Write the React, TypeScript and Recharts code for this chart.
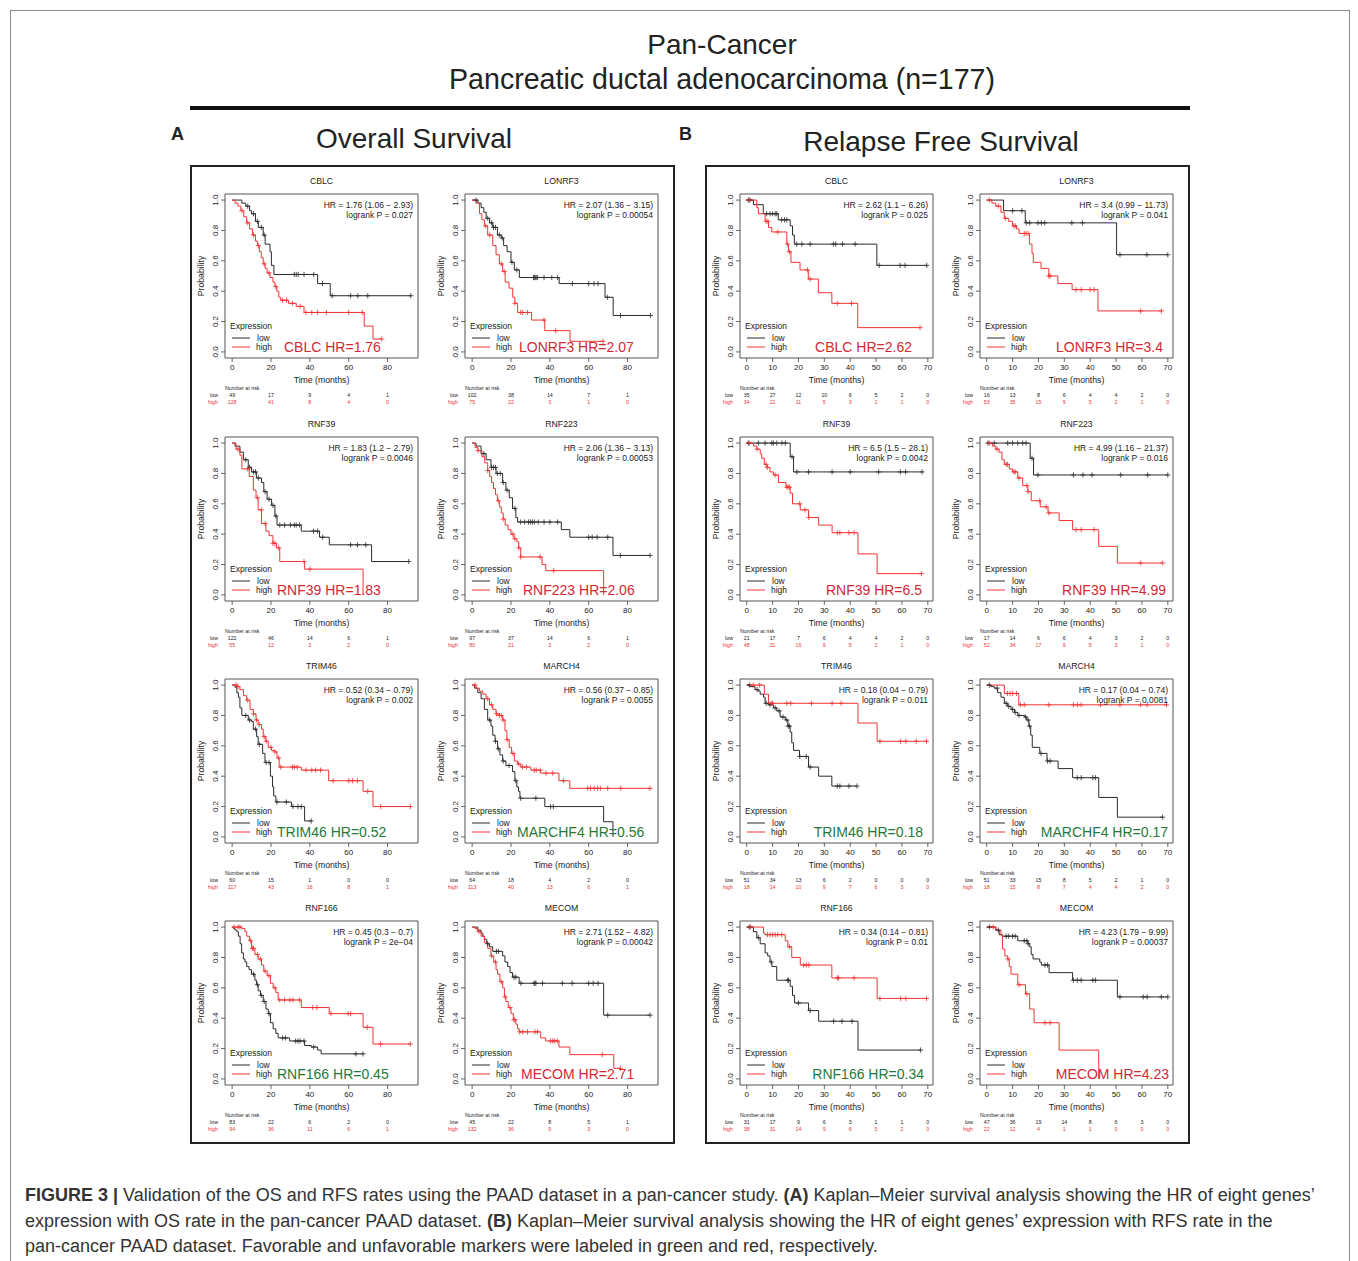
import { LineChart, Line, XAxis, YAxis, ReferenceArea } from 'recharts';

type Step = [number, number];

// ---- Overall survival curves (time in months, survival probability) ----
const osCblcLow: Step[] = [[0, 1], [5, 0.98], [7, 0.96], [9, 0.93], [10, 0.91], [12, 0.86], [13.5, 0.82], [16, 0.77], [17, 0.71], [19.5, 0.66], [20.2, 0.57], [21.5, 0.51], [44, 0.45], [50.5, 0.37]];
const osCblcLowCens = [8, 11, 13, 15, 16.5, 32, 33, 34, 37, 42, 46.5, 51.5, 61, 64.7, 69.8, 92];
const osCblcHigh: Step[] = [[0, 1], [1.5, 0.98], [3, 0.96], [4.5, 0.93], [6, 0.89], [7.5, 0.85], [9, 0.81], [10.5, 0.77], [12, 0.73], [13, 0.7], [14, 0.66], [15, 0.62], [16, 0.58], [17, 0.55], [18, 0.52], [19.5, 0.49], [21, 0.46], [22, 0.43], [23, 0.4], [24, 0.36], [25, 0.34], [29, 0.32], [33, 0.3], [37, 0.26], [68, 0.17], [72.5, 0.085]];
const osCblcHighCens = [5, 8, 11, 13.5, 16.5, 19, 22.5, 26, 28, 31, 35, 38, 41, 44, 48.5, 60, 67, 77];

const osLonrf3Low: Step[] = [[0, 1], [3, 0.98], [4.6, 0.95], [6, 0.92], [7.2, 0.88], [9, 0.85], [10.6, 0.82], [13, 0.77], [15, 0.75], [16.2, 0.7], [18, 0.66], [20, 0.59], [21.7, 0.54], [24.3, 0.49], [44.8, 0.45], [68.4, 0.36], [72.6, 0.24]];
const osLonrf3LowCens = [2, 8, 10, 11, 12, 14, 15.5, 20.5, 23, 31.6, 32, 32.5, 33, 33.7, 37, 41, 44, 51.6, 60, 62.7, 64.8, 69.6, 76.4, 91.8];
const osLonrf3High: Step[] = [[0, 1], [2, 0.98], [3.8, 0.91], [5, 0.87], [6.3, 0.83], [8, 0.77], [10.6, 0.7], [12.3, 0.64], [14, 0.58], [15.7, 0.53], [17, 0.46], [19, 0.42], [20.9, 0.36], [22, 0.32], [23.4, 0.26], [30.6, 0.21], [37.4, 0.14], [50.4, 0.07]];
const osLonrf3HighCens = [7, 9, 15, 16.5, 22, 25, 26, 28.5, 37, 43, 67.4];

const osRnf39Low: Step[] = [[0, 1], [1.5, 0.98], [4, 0.94], [5.8, 0.89], [8.3, 0.84], [10, 0.81], [12.6, 0.77], [15.1, 0.74], [16.3, 0.68], [18, 0.63], [20.3, 0.59], [22, 0.52], [23.1, 0.46], [35.6, 0.42], [45, 0.38], [50, 0.33], [71.8, 0.22]];
const osRnf39LowCens = [7, 9, 11, 12, 13.5, 17, 19, 21, 22.5, 24.5, 27, 30, 32, 33, 34.7, 41.9, 44, 46.6, 61, 64.5, 68.8, 90.9];
const osRnf39High: Step[] = [[0, 1], [2, 0.96], [4, 0.92], [5, 0.83], [8.8, 0.78], [10.9, 0.69], [12.3, 0.64], [13.4, 0.56], [15.1, 0.47], [17.4, 0.42], [19, 0.39], [21, 0.34], [22.8, 0.31], [24.5, 0.22], [37.3, 0.17], [67.4, 0]];
const osRnf39HighCens = [3, 8, 13, 15, 17, 21, 22, 24, 37, 40];

const osRnf223Low: Step[] = [[0, 1], [2, 0.98], [4.6, 0.93], [7.2, 0.89], [9.7, 0.84], [12.3, 0.8], [15.7, 0.74], [17.4, 0.69], [19.1, 0.64], [20.8, 0.57], [22.5, 0.51], [23.4, 0.48], [45.9, 0.43], [50.3, 0.38], [72.5, 0.26]];
const osRnf223LowCens = [6, 10, 11, 12, 13, 14.5, 16, 18, 22, 25, 27, 29, 30, 31, 32, 34, 37, 40, 44, 60, 61.8, 64.3, 69.8, 76.3, 91.6];
const osRnf223High: Step[] = [[0, 1], [1.5, 0.97], [3, 0.95], [5, 0.91], [6.5, 0.87], [8, 0.82], [9, 0.78], [10, 0.74], [11, 0.7], [12, 0.66], [13, 0.62], [14, 0.58], [15, 0.54], [16, 0.5], [17, 0.46], [18.5, 0.43], [20, 0.4], [21.5, 0.37], [23, 0.35], [24, 0.31], [25, 0.25], [36, 0.2], [37.9, 0.16], [67.7, 0]];
const osRnf223HighCens = [3, 8, 13.5, 16, 21, 22, 24, 25, 35, 42];

const osTrim46Low: Step[] = [[0, 1], [1.5, 0.985], [2.4, 0.95], [3.2, 0.92], [4, 0.85], [5, 0.8], [8.3, 0.77], [10, 0.76], [10.9, 0.71], [12.6, 0.66], [13.4, 0.61], [15.7, 0.55], [16.9, 0.49], [19.7, 0.4], [20.8, 0.33], [21.4, 0.27], [22.5, 0.23], [30.5, 0.2], [37.3, 0.105]];
const osTrim46LowCens = [7, 9, 12, 14, 17.5, 19, 23.1, 27.9, 31.3, 33.9, 35.6, 40.7];
const osTrim46High: Step[] = [[0, 1], [2.4, 0.99], [4, 0.97], [5.8, 0.93], [7.5, 0.9], [9.2, 0.84], [10.9, 0.81], [12.3, 0.77], [13.4, 0.74], [15.1, 0.71], [16, 0.66], [17.4, 0.63], [18.6, 0.59], [20.3, 0.57], [22, 0.56], [23.1, 0.52], [24.2, 0.46], [35.6, 0.44], [49.7, 0.37], [67.4, 0.3], [72.5, 0.2]];
const osTrim46HighCens = [2, 3, 8, 11, 12.5, 14, 16.5, 17.5, 20, 22, 24, 25, 31, 32, 33.5, 38, 41, 43, 45.5, 52, 60, 62, 64.5, 69.8, 76.5, 91.7];

const osMarch4Low: Step[] = [[0, 1], [1.2, 0.98], [2.9, 0.95], [4.6, 0.91], [6.3, 0.84], [8, 0.77], [9.7, 0.73], [10.6, 0.67], [11.8, 0.63], [13.1, 0.58], [14.3, 0.54], [15.7, 0.5], [17.4, 0.47], [20.8, 0.43], [22, 0.37], [23, 0.33], [23.9, 0.3], [24.6, 0.255], [37.4, 0.2], [67.7, 0.1], [72.5, 0]];
const osMarch4LowCens = [9, 12, 13.5, 16, 19, 22.5, 25, 32.8, 40.4, 41.8];
const osMarch4High: Step[] = [[0, 1], [2, 0.98], [3.8, 0.96], [5.5, 0.94], [7.2, 0.91], [8.9, 0.87], [10.6, 0.84], [12.3, 0.81], [14, 0.8], [15.7, 0.77], [16.9, 0.7], [17.9, 0.64], [19.1, 0.59], [20.3, 0.55], [21.7, 0.5], [23.4, 0.48], [25.1, 0.46], [30.2, 0.44], [35.3, 0.42], [44.7, 0.37], [50.3, 0.32]];
const osMarch4HighCens = [1.5, 8, 10, 12.5, 14, 15, 16, 18, 21, 24, 26, 28, 32, 33, 35, 38, 41.5, 47, 59.5, 61, 62.8, 64.5, 66, 69.8, 76.5, 91.6];

const osRnf166Low: Step[] = [[0, 1], [0.7, 0.99], [1.5, 0.98], [2.4, 0.97], [3.2, 0.94], [4.1, 0.89], [4.9, 0.83], [5.8, 0.79], [6.6, 0.77], [7.5, 0.74], [8.7, 0.72], [10, 0.69], [11.7, 0.65], [12.6, 0.62], [13.4, 0.58], [14.6, 0.55], [16, 0.51], [17.4, 0.46], [18.6, 0.43], [19.7, 0.37], [21.1, 0.33], [22.5, 0.3], [23.7, 0.27], [29.6, 0.25], [37.3, 0.22], [40.7, 0.21], [44, 0.19], [45.8, 0.165]];
const osRnf166LowCens = [11, 13, 15, 16.5, 19, 26, 27.5, 32.7, 33.9, 35, 37, 42, 63.7, 67.4];
const osRnf166High: Step[] = [[0, 1], [4.9, 0.99], [6.6, 0.97], [7.5, 0.94], [8.9, 0.91], [10, 0.86], [11.7, 0.82], [13.4, 0.79], [15.1, 0.75], [16.3, 0.71], [18, 0.68], [19.7, 0.63], [21.1, 0.6], [22.5, 0.57], [23.7, 0.52], [35.6, 0.47], [50, 0.43], [67.4, 0.34], [72.5, 0.23]];
const osRnf166HighCens = [1, 3, 4, 9.5, 10.5, 11, 13, 14.5, 17, 19, 22, 24.5, 27, 29.6, 31.3, 34.7, 41.5, 43.6, 50.9, 59.7, 61, 69.6, 76.4, 91.7];

const osMecomLow: Step[] = [[0, 1], [2.9, 0.98], [4.6, 0.96], [5.5, 0.94], [6.3, 0.92], [7.5, 0.89], [8.9, 0.87], [10.6, 0.84], [15.7, 0.81], [16.9, 0.77], [18.3, 0.74], [19.5, 0.7], [20.8, 0.67], [24.2, 0.63], [67.7, 0.42]];
const osMecomLowCens = [8, 12.5, 13.5, 21.5, 22.5, 25.1, 31.9, 32.3, 32.8, 36.2, 46.4, 51.5, 60, 62.3, 64.8, 69.8, 91.6];
const osMecomHigh: Step[] = [[0, 1], [1.5, 0.99], [2.9, 0.97], [4.6, 0.94], [6.3, 0.9], [8, 0.86], [9.7, 0.81], [11.1, 0.77], [12.3, 0.72], [13.1, 0.69], [14.3, 0.64], [15.7, 0.6], [16.6, 0.54], [17.4, 0.51], [18.6, 0.47], [20, 0.43], [21.2, 0.39], [22.5, 0.36], [23.4, 0.33], [24.2, 0.31], [35.3, 0.27], [37.9, 0.25], [44.7, 0.21], [50.3, 0.16], [72.9, 0.07]];
const osMecomHighCens = [3.5, 10, 12, 15, 17, 19.5, 21.5, 22, 24.5, 26, 28.5, 32.3, 33.6, 40.4, 41.5, 42.5, 43.9, 67, 76.3];

// ---- Relapse free survival curves ----
const rfsCblcLow: Step[] = [[0, 1], [2.6, 0.97], [6.4, 0.91], [12.2, 0.87], [16.8, 0.83], [17.7, 0.77], [18.4, 0.71], [50.3, 0.57]];
const rfsCblcLowCens = [0.6, 1.3, 7.7, 9, 10, 11, 11.6, 13.5, 14.6, 15.5, 19.3, 21.3, 24.5, 33.5, 34.4, 37, 41.9, 51.2, 59.3, 61.2, 69.6];
const rfsCblcHigh: Step[] = [[0, 1], [3.9, 0.95], [4.5, 0.91], [7.1, 0.86], [8.4, 0.82], [9.7, 0.79], [15.5, 0.71], [16.1, 0.66], [17.1, 0.59], [20.6, 0.54], [23.8, 0.48], [27.7, 0.39], [32.9, 0.32], [42.9, 0.16]];
const rfsCblcHighCens = [0.8, 7.5, 8.2, 12, 15.8, 16.5, 23.5, 24.5, 35, 40.5, 67];

const rfsLonrf3Low: Step[] = [[0, 1], [6.5, 0.93], [14.9, 0.85], [50.2, 0.64]];
const rfsLonrf3LowCens = [10, 13.6, 15.3, 16.6, 19.8, 21.1, 22.4, 32.9, 37, 51.5, 61.9, 70];
const rfsLonrf3High: Step[] = [[0, 1], [2, 0.98], [3.5, 0.96], [5.5, 0.92], [6.8, 0.88], [8.5, 0.86], [10, 0.83], [11.5, 0.81], [12.5, 0.78], [16.5, 0.71], [17.5, 0.65], [18, 0.59], [21, 0.55], [24, 0.5], [27.5, 0.45], [33, 0.41], [43, 0.27]];
const rfsLonrf3HighCens = [1, 4.5, 7.2, 10.5, 11, 14.5, 15.2, 16, 24, 24.5, 34.5, 36.5, 40, 41.5, 59.5, 67.5];

const rfsRnf39Low: Step[] = [[0, 1], [16.8, 0.91], [18.1, 0.81]];
const rfsRnf39LowCens = [0.6, 4.5, 7.1, 9.7, 10.3, 11.6, 13.6, 14.9, 17.5, 19.4, 23.9, 33, 40, 51, 59.4, 61.4, 67.8];
const rfsRnf39High: Step[] = [[0, 1], [2.6, 0.98], [3.9, 0.96], [5.2, 0.93], [5.8, 0.9], [6.8, 0.86], [7.8, 0.84], [9, 0.81], [10.3, 0.79], [12.3, 0.74], [15.2, 0.71], [16.8, 0.67], [17.7, 0.6], [20.7, 0.56], [23.9, 0.51], [27.8, 0.46], [33, 0.41], [43, 0.27], [50.4, 0.14]];
const rfsRnf39HighCens = [1, 4, 7.5, 8, 11, 15.5, 16, 16.5, 20.5, 22.5, 24, 35, 36, 39.5, 41.5, 67.6];

const rfsRnf223Low: Step[] = [[0, 1], [16.8, 0.9], [18.1, 0.79]];
const rfsRnf223LowCens = [0.5, 2.9, 8.1, 10, 12, 13.9, 15.2, 17.5, 19.8, 33.5, 37.2, 40.7, 51.8, 62.2, 70];
const rfsRnf223High: Step[] = [[0, 1], [2.2, 0.98], [3.5, 0.96], [4.8, 0.94], [5.9, 0.89], [6.8, 0.86], [8.7, 0.83], [10, 0.81], [12, 0.77], [13.9, 0.72], [15.9, 0.68], [17.2, 0.62], [20.7, 0.58], [23.7, 0.54], [28, 0.49], [33.2, 0.43], [43.3, 0.32], [50.5, 0.21]];
const rfsRnf223HighCens = [1, 4, 7.5, 8, 10.5, 11, 12.5, 15.5, 16, 20.5, 23, 24, 34.5, 36.5, 41.5, 59.5, 68];

const rfsTrim46Low: Step[] = [[0, 1], [1.3, 0.99], [3.2, 0.97], [4.5, 0.96], [5.2, 0.94], [6.5, 0.92], [7.1, 0.88], [8.4, 0.87], [10.3, 0.85], [11.6, 0.83], [12.9, 0.79], [14.9, 0.77], [15.9, 0.73], [16.8, 0.69], [17.4, 0.62], [18.1, 0.57], [20.4, 0.53], [23.9, 0.46], [27.8, 0.4], [32.9, 0.335]];
const rfsTrim46LowCens = [1, 4, 7.5, 9, 11, 12.5, 14, 15.5, 16, 16.5, 20.5, 23, 24.5, 35, 36, 39.5, 42.6];
const rfsTrim46High: Step[] = [[0, 1], [6.8, 0.94], [8.4, 0.88], [43, 0.75], [50.4, 0.63]];
const rfsTrim46HighCens = [2.5, 5, 9.5, 10, 15.5, 17, 25, 33, 36.5, 51.5, 59.5, 61.5, 65.5, 69.5];

const rfsMarch4Low: Step[] = [[0, 1], [1.6, 0.99], [2.9, 0.98], [4.2, 0.95], [5.5, 0.92], [6.8, 0.88], [8.1, 0.86], [9.4, 0.84], [10.7, 0.82], [12, 0.8], [14.6, 0.79], [15.5, 0.77], [16.3, 0.73], [17, 0.67], [17.6, 0.59], [20.5, 0.55], [23.3, 0.5], [27.6, 0.45], [33.2, 0.39], [43.3, 0.26], [50.5, 0.13]];
const rfsMarch4LowCens = [1, 4, 7.5, 8.5, 10, 11, 12.5, 15, 16, 16.5, 21, 23.5, 24.5, 35, 36.5, 41, 42, 68];
const rfsMarch4High: Step[] = [[0, 1], [6.8, 0.945], [12.4, 0.87]];
const rfsMarch4HighCens = [8, 9, 10, 11.5, 13, 14.5, 24, 33.5, 35, 36.5, 44, 51.5, 59.5, 62, 69.5];

const rfsRnf166Low: Step[] = [[0, 1], [2.6, 0.97], [3.9, 0.93], [5.2, 0.89], [7.1, 0.83], [8.1, 0.81], [9, 0.77], [9.7, 0.74], [11.6, 0.65], [16.8, 0.61], [17.7, 0.55], [18.5, 0.5], [23.9, 0.45], [27.8, 0.38], [43, 0.19]];
const rfsRnf166LowCens = [1, 4.5, 9.5, 15.9, 16.1, 20, 24.5, 33.6, 36.8, 40.7, 67.2];
const rfsRnf166High: Step[] = [[0, 1], [6.5, 0.96], [7.1, 0.95], [14.9, 0.91], [15.9, 0.87], [17.4, 0.8], [20.7, 0.75], [32.9, 0.665], [50.4, 0.53]];
const rfsRnf166HighCens = [1.5, 8, 9, 10, 11, 12, 13.5, 16.5, 22, 23, 24, 35, 35.5, 41.5, 51.5, 59.5, 61.5, 69.5];

const rfsMecomLow: Step[] = [[0, 1], [3.5, 0.98], [4.8, 0.95], [5.9, 0.94], [12, 0.91], [15.9, 0.89], [16.6, 0.87], [17.2, 0.82], [17.9, 0.79], [20.5, 0.77], [21.1, 0.75], [24.1, 0.7], [33.2, 0.65], [50.5, 0.54]];
const rfsMecomLowCens = [1, 4.5, 7.5, 8.5, 10, 11, 14.5, 15.5, 16, 22.5, 23.5, 33.5, 35, 36.5, 41, 42, 51.5, 60.5, 62, 67.5, 70];
const rfsMecomHigh: Step[] = [[0, 1], [3.5, 0.98], [5.5, 0.95], [6.1, 0.855], [7, 0.81], [8.1, 0.79], [8.7, 0.74], [9.4, 0.69], [12, 0.62], [15, 0.56], [16.6, 0.46], [18.3, 0.37], [28, 0.19], [43.3, 0]];
const rfsMecomHighCens = [2.5, 8.2, 12.5, 15.5, 22.5, 24.5];

// ---- numbers at risk (low row, high row) ----
const osCblcRisk = [[49, 17, 9, 4, 1], [128, 41, 8, 4, 0]];
const osLonrf3Risk = [[102, 38, 14, 7, 1], [75, 22, 3, 1, 0]];
const osRnf39Risk = [[122, 46, 14, 6, 1], [55, 12, 3, 2, 0]];
const osRnf223Risk = [[97, 37, 14, 6, 1], [80, 21, 3, 2, 0]];
const osTrim46Risk = [[60, 15, 1, 0, 0], [117, 43, 16, 8, 1]];
const osMarch4Risk = [[64, 18, 4, 2, 0], [113, 40, 13, 6, 1]];
const osRnf166Risk = [[83, 22, 6, 2, 0], [94, 36, 11, 6, 1]];
const osMecomRisk = [[45, 22, 8, 5, 1], [132, 36, 9, 3, 0]];
const rfsCblcRisk = [[35, 27, 12, 10, 6, 5, 2, 0], [34, 21, 11, 5, 3, 1, 1, 0]];
const rfsLonrf3Risk = [[16, 13, 8, 6, 4, 4, 2, 0], [53, 35, 15, 9, 5, 2, 1, 0]];
const rfsRnf39Risk = [[21, 17, 7, 6, 4, 4, 2, 0], [48, 31, 16, 9, 5, 2, 1, 0]];
const rfsRnf223Risk = [[17, 14, 6, 6, 4, 3, 2, 0], [52, 34, 17, 9, 5, 3, 1, 0]];
const rfsTrim46Risk = [[51, 34, 13, 6, 2, 0, 0, 0], [18, 14, 10, 9, 7, 6, 3, 0]];
const rfsMarch4Risk = [[51, 33, 15, 8, 5, 2, 1, 0], [18, 15, 8, 7, 4, 4, 2, 0]];
const rfsRnf166Risk = [[31, 17, 9, 6, 3, 1, 1, 0], [38, 31, 14, 9, 6, 5, 2, 0]];
const rfsMecomRisk = [[47, 36, 19, 14, 8, 6, 3, 0], [22, 12, 4, 1, 1, 0, 0, 0]];

const OS_TICKS = [0, 20, 40, 60, 80];
const RFS_TICKS = [0, 10, 20, 30, 40, 50, 60, 70];
const PROB_TICKS = [0, 0.2, 0.4, 0.6, 0.8, 1];

const FONT = '"Liberation Sans", Arial, Helvetica, sans-serif';
const LOW_C = '#2b2b2b';
const HIGH_C = '#ef3434';
const BAD_C = '#cf2a34';
const GOOD_C = '#1f7a3b';

const CELL_W = 240;
const CELL_H = 243;

type Pt = { t: number; s: number; c: boolean };

function toPoints(steps: Step[], cens: number[]): Pt[] {
  const pts: Pt[] = steps.map(([t, s]) => ({ t, s, c: false }));
  for (const t of cens) {
    let s = steps[0][1];
    for (const [st, sv] of steps) if (st <= t) s = sv;
    pts.push({ t, s, c: true });
  }
  pts.sort((a, b) => a.t - b.t || (a.c ? 1 : 0) - (b.c ? 1 : 0));
  return pts;
}

const censorDot = (color: string) => (props: any) => {
  const { cx, cy, payload, index } = props;
  if (!payload || !payload.c || cx == null || cy == null) return <g key={`n${index}`} />;
  return (
    <path
      key={`c${index}`}
      d={`M${cx - 2.6},${cy}h5.2M${cx},${cy - 2.6}v5.2`}
      stroke={color}
      strokeWidth={0.8}
      fill="none"
    />
  );
};

type PlotCfg = {
  title: string;
  os: boolean;
  low: Step[]; lowCens: number[];
  high: Step[]; highCens: number[];
  risk: number[][];
  hr: string; p: string;
  label: string; good: boolean; lx: number;
};

const cells: { x: number; y: number; cfg: PlotCfg }[] = [
  { x: 190, y: 165, cfg: { title: 'CBLC', os: true, low: osCblcLow, lowCens: osCblcLowCens, high: osCblcHigh, highCens: osCblcHighCens, risk: osCblcRisk, hr: 'HR = 1.76 (1.06 − 2.93)', p: 'logrank P = 0.027', label: 'CBLC HR=1.76', good: false, lx: 94 } },
  { x: 430, y: 165, cfg: { title: 'LONRF3', os: true, low: osLonrf3Low, lowCens: osLonrf3LowCens, high: osLonrf3High, highCens: osLonrf3HighCens, risk: osLonrf3Risk, hr: 'HR = 2.07 (1.36 − 3.15)', p: 'logrank P = 0.00054', label: 'LONRF3 HR=2.07', good: false, lx: 89 } },
  { x: 190, y: 408, cfg: { title: 'RNF39', os: true, low: osRnf39Low, lowCens: osRnf39LowCens, high: osRnf39High, highCens: osRnf39HighCens, risk: osRnf39Risk, hr: 'HR = 1.83 (1.2 − 2.79)', p: 'logrank P = 0.0046', label: 'RNF39 HR=1.83', good: false, lx: 87 } },
  { x: 430, y: 408, cfg: { title: 'RNF223', os: true, low: osRnf223Low, lowCens: osRnf223LowCens, high: osRnf223High, highCens: osRnf223HighCens, risk: osRnf223Risk, hr: 'HR = 2.06 (1.36 − 3.13)', p: 'logrank P = 0.00053', label: 'RNF223 HR=2.06', good: false, lx: 93 } },
  { x: 190, y: 650, cfg: { title: 'TRIM46', os: true, low: osTrim46Low, lowCens: osTrim46LowCens, high: osTrim46High, highCens: osTrim46HighCens, risk: osTrim46Risk, hr: 'HR = 0.52 (0.34 − 0.79)', p: 'logrank P = 0.002', label: 'TRIM46 HR=0.52', good: true, lx: 87 } },
  { x: 430, y: 650, cfg: { title: 'MARCH4', os: true, low: osMarch4Low, lowCens: osMarch4LowCens, high: osMarch4High, highCens: osMarch4HighCens, risk: osMarch4Risk, hr: 'HR = 0.56 (0.37 − 0.85)', p: 'logrank P = 0.0055', label: 'MARCHF4 HR=0.56', good: true, lx: 87 } },
  { x: 190, y: 892, cfg: { title: 'RNF166', os: true, low: osRnf166Low, lowCens: osRnf166LowCens, high: osRnf166High, highCens: osRnf166HighCens, risk: osRnf166Risk, hr: 'HR = 0.45 (0.3 − 0.7)', p: 'logrank P = 2e−04', label: 'RNF166 HR=0.45', good: true, lx: 87 } },
  { x: 430, y: 892, cfg: { title: 'MECOM', os: true, low: osMecomLow, lowCens: osMecomLowCens, high: osMecomHigh, highCens: osMecomHighCens, risk: osMecomRisk, hr: 'HR = 2.71 (1.52 − 4.82)', p: 'logrank P = 0.00042', label: 'MECOM HR=2.71', good: false, lx: 91 } },
  { x: 705, y: 165, cfg: { title: 'CBLC', os: false, low: rfsCblcLow, lowCens: rfsCblcLowCens, high: rfsCblcHigh, highCens: rfsCblcHighCens, risk: rfsCblcRisk, hr: 'HR = 2.62 (1.1 − 6.26)', p: 'logrank P = 0.025', label: 'CBLC HR=2.62', good: false, lx: 207 } },
  { x: 945, y: 165, cfg: { title: 'LONRF3', os: false, low: rfsLonrf3Low, lowCens: rfsLonrf3LowCens, high: rfsLonrf3High, highCens: rfsLonrf3HighCens, risk: rfsLonrf3Risk, hr: 'HR = 3.4 (0.99 − 11.73)', p: 'logrank P = 0.041', label: 'LONRF3 HR=3.4', good: false, lx: 218 } },
  { x: 705, y: 408, cfg: { title: 'RNF39', os: false, low: rfsRnf39Low, lowCens: rfsRnf39LowCens, high: rfsRnf39High, highCens: rfsRnf39HighCens, risk: rfsRnf39Risk, hr: 'HR = 6.5 (1.5 − 28.1)', p: 'logrank P = 0.0042', label: 'RNF39 HR=6.5', good: false, lx: 217 } },
  { x: 945, y: 408, cfg: { title: 'RNF223', os: false, low: rfsRnf223Low, lowCens: rfsRnf223LowCens, high: rfsRnf223High, highCens: rfsRnf223HighCens, risk: rfsRnf223Risk, hr: 'HR = 4.99 (1.16 − 21.37)', p: 'logrank P = 0.016', label: 'RNF39 HR=4.99', good: false, lx: 221 } },
  { x: 705, y: 650, cfg: { title: 'TRIM46', os: false, low: rfsTrim46Low, lowCens: rfsTrim46LowCens, high: rfsTrim46High, highCens: rfsTrim46HighCens, risk: rfsTrim46Risk, hr: 'HR = 0.18 (0.04 − 0.79)', p: 'logrank P = 0.011', label: 'TRIM46 HR=0.18', good: true, lx: 218 } },
  { x: 945, y: 650, cfg: { title: 'MARCH4', os: false, low: rfsMarch4Low, lowCens: rfsMarch4LowCens, high: rfsMarch4High, highCens: rfsMarch4HighCens, risk: rfsMarch4Risk, hr: 'HR = 0.17 (0.04 − 0.74)', p: 'logrank P = 0.0081', label: 'MARCHF4 HR=0.17', good: true, lx: 223 } },
  { x: 705, y: 892, cfg: { title: 'RNF166', os: false, low: rfsRnf166Low, lowCens: rfsRnf166LowCens, high: rfsRnf166High, highCens: rfsRnf166HighCens, risk: rfsRnf166Risk, hr: 'HR = 0.34 (0.14 − 0.81)', p: 'logrank P = 0.01', label: 'RNF166 HR=0.34', good: true, lx: 219 } },
  { x: 945, y: 892, cfg: { title: 'MECOM', os: false, low: rfsMecomLow, lowCens: rfsMecomLowCens, high: rfsMecomHigh, highCens: rfsMecomHighCens, risk: rfsMecomRisk, hr: 'HR = 4.23 (1.79 − 9.99)', p: 'logrank P = 0.00037', label: 'MECOM HR=4.23', good: false, lx: 224 } },
];

function KMPlot({ cfg, x, y }: { cfg: PlotCfg; x: number; y: number }) {
  const ticks = cfg.os ? OS_TICKS : RFS_TICKS;
  const domain: [number, number] = cfg.os ? [-3.68, 95.68] : [-2.6, 72];
  const lowPts = toPoints(cfg.low, cfg.lowCens);
  const highPts = toPoints(cfg.high, cfg.highCens);

  const xTick = (props: any) => {
    const { x: tx, payload } = props;
    const i = ticks.indexOf(payload.value);
    return (
      <g key={`xt${payload.value}`} fontFamily={FONT}>
        <text x={tx} y={205} textAnchor="middle" fontSize={8} fill="#222">{payload.value}</text>
        <text x={tx} y={232} textAnchor="middle" fontSize={5.3} fill="#222">{cfg.risk[0][i]}</text>
        <text x={tx} y={239} textAnchor="middle" fontSize={5.3} fill={HIGH_C}>{cfg.risk[1][i]}</text>
      </g>
    );
  };
  const yTick = (props: any) => {
    const { y: ty, payload } = props;
    return (
      <text key={`yt${payload.value}`} x={28} y={ty} transform={`rotate(-90, 28, ${ty})`} textAnchor="middle" fontSize={8} fill="#222" fontFamily={FONT}>
        {Number(payload.value).toFixed(1)}
      </text>
    );
  };

  return (
    <div style={{ position: 'absolute', left: x, top: y, width: CELL_W, height: CELL_H }}>
      <LineChart width={CELL_W} height={CELL_H} margin={{ top: 29, right: 12, bottom: 20, left: 5 }}>
        <XAxis
          type="number"
          dataKey="t"
          domain={domain}
          ticks={ticks}
          allowDataOverflow
          height={30}
          axisLine={false}
          tickLine={{ stroke: '#444', strokeWidth: 0.8 }}
          tickSize={4}
          tick={xTick}
          interval={0}
        />
        <YAxis
          type="number"
          domain={[-0.04, 1.04]}
          ticks={PROB_TICKS}
          allowDataOverflow
          width={30}
          axisLine={false}
          tickLine={{ stroke: '#444', strokeWidth: 0.8 }}
          tickSize={4}
          tick={yTick}
          interval={0}
        />
        <ReferenceArea
          x1={domain[0]}
          x2={domain[1]}
          y1={-0.04}
          y2={1.04}
          fill="none"
          fillOpacity={0}
          stroke="#555"
          strokeWidth={1}
          ifOverflow="visible"
        />
        <Line data={lowPts} dataKey="s" type="stepAfter" stroke={LOW_C} strokeWidth={1} dot={censorDot(LOW_C)} activeDot={false} isAnimationActive={false} />
        <Line data={highPts} dataKey="s" type="stepAfter" stroke={HIGH_C} strokeWidth={1} dot={censorDot(HIGH_C)} activeDot={false} isAnimationActive={false} />
      </LineChart>
      <svg width={CELL_W} height={CELL_H} style={{ position: 'absolute', left: 0, top: 0, pointerEvents: 'none' }} fontFamily={FONT}>
        <text x={131.5} y={19} textAnchor="middle" fontSize={8.7} fill="#222">{cfg.title}</text>
        <text x={14} y={111} transform="rotate(-90, 14, 111)" textAnchor="middle" fontSize={8.7} fill="#222">Probability</text>
        <text x={131.5} y={218} textAnchor="middle" fontSize={8.7} fill="#222">Time (months)</text>
        <text x={223} y={43} textAnchor="end" fontSize={8.5} fill="#222">{cfg.hr}</text>
        <text x={223} y={53} textAnchor="end" fontSize={8.5} fill="#222">{cfg.p}</text>
        <text x={40} y={164} fontSize={8.5} fill="#222">Expression</text>
        <line x1={42} x2={60} y1={173} y2={173} stroke={LOW_C} strokeWidth={1} />
        <text x={67} y={176} fontSize={8.5} fill="#222">low</text>
        <line x1={42} x2={60} y1={182} y2={182} stroke={HIGH_C} strokeWidth={1} />
        <text x={66} y={185} fontSize={8.5} fill="#222">high</text>
        <text
          x={cfg.lx}
          y={187}
          textAnchor={cfg.os ? 'start' : 'end'}
          fontSize={14}
          fill={cfg.good ? GOOD_C : BAD_C}
        >
          {cfg.label}
        </text>
        <text x={35} y={225} fontSize={5.3} fill="#222">Number at risk</text>
        <text x={28} y={232} textAnchor="end" fontSize={5.3} fill="#222">low</text>
        <text x={28} y={239} textAnchor="end" fontSize={5.3} fill={HIGH_C}>high</text>
      </svg>
    </div>
  );
}

export default function App() {
  return (
    <div style={{ position: 'absolute', left: 0, top: 0, width: 1358, height: 1261, background: '#fff', overflow: 'hidden', fontFamily: FONT, color: '#222' }}>
      <div style={{ position: 'absolute', left: 10, top: 10, width: 1338, height: 1300, border: '1px solid #8a8a8a' }} />
      <div style={{ position: 'absolute', left: 322, width: 800, top: 28, textAlign: 'center', fontSize: 28, lineHeight: '34px' }}>
        Pan-Cancer
        <br />
        <span style={{ fontSize: 28.6 }}>Pancreatic ductal adenocarcinoma (n=177)</span>
      </div>
      <div style={{ position: 'absolute', left: 190, top: 106, width: 1000, height: 4, background: '#111' }} />
      <div style={{ position: 'absolute', left: 171, top: 124, fontSize: 18, fontWeight: 'bold' }}>A</div>
      <div style={{ position: 'absolute', left: 214, width: 400, top: 123, textAlign: 'center', fontSize: 28 }}>Overall Survival</div>
      <div style={{ position: 'absolute', left: 679, top: 124, fontSize: 18, fontWeight: 'bold' }}>B</div>
      <div style={{ position: 'absolute', left: 741, width: 400, top: 126, textAlign: 'center', fontSize: 28 }}>Relapse Free Survival</div>
      <div style={{ position: 'absolute', left: 190, top: 165, width: 485, height: 979, border: '2px solid #222', boxSizing: 'border-box' }} />
      <div style={{ position: 'absolute', left: 705, top: 165, width: 485, height: 979, border: '2px solid #222', boxSizing: 'border-box' }} />
      {cells.map((c, i) => (
        <KMPlot key={i} cfg={c.cfg} x={c.x} y={c.y} />
      ))}
      <div style={{ position: 'absolute', left: 25, top: 1183, width: 1330, fontSize: 18, lineHeight: '25.5px', color: '#333', whiteSpace: 'nowrap' }}>
        <b>FIGURE 3 |</b> Validation of the OS and RFS rates using the PAAD dataset in a pan-cancer study. <b>(A)</b> Kaplan–Meier survival analysis showing the HR of eight genes’
        <br />
        expression with OS rate in the pan-cancer PAAD dataset. <b>(B)</b> Kaplan–Meier survival analysis showing the HR of eight genes’ expression with RFS rate in the
        <br />
        pan-cancer PAAD dataset. Favorable and unfavorable markers were labeled in green and red, respectively.
      </div>
    </div>
  );
}
